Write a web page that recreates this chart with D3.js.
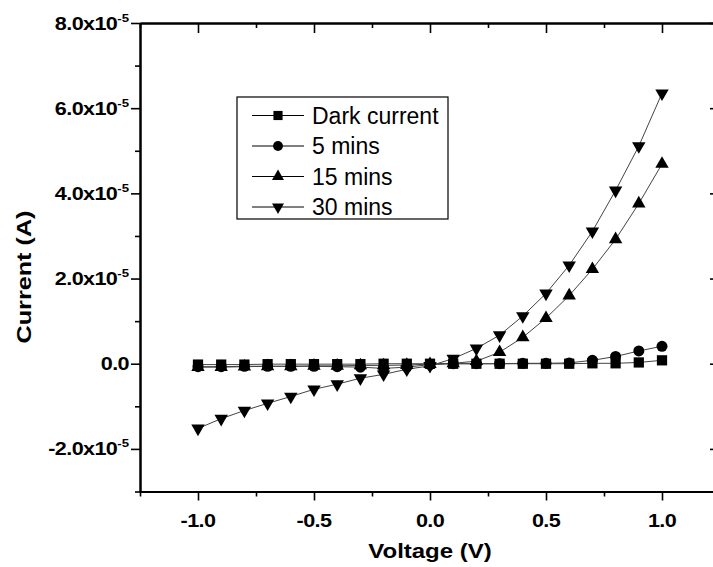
<!DOCTYPE html>
<html><head><meta charset="utf-8">
<script src="https://cdn.jsdelivr.net/npm/d3@7"></script>
<style>body{margin:0;background:#fff} svg{display:block}</style>
</head><body>
<svg id="chart" width="713" height="567"></svg>
<script>
// ---------- data (current in units of 1e-5 A) ----------
const voltage = [-1.0,-0.9,-0.8,-0.7,-0.6,-0.5,-0.4,-0.3,-0.2,-0.1,0.0,0.1,0.2,0.3,0.4,0.5,0.6,0.7,0.8,0.9,1.0];
const darkCurrent = [-0.02,-0.02,-0.02,-0.01,-0.01,-0.01,-0.01,-0.01,0.0,0.0,0.0,0.0,0.0,0.0,0.0,0.0,0.0,0.01,0.01,0.03,0.08];
const mins5      = [-0.07,-0.07,-0.06,-0.06,-0.06,-0.06,-0.07,-0.08,-0.11,-0.08,-0.02,0.0,0.0,0.0,0.01,0.01,0.02,0.08,0.17,0.30,0.41];
const mins15     = [-0.08,-0.08,-0.07,-0.06,-0.06,-0.05,-0.05,-0.04,-0.04,-0.03,-0.01,0.01,0.06,0.27,0.62,1.07,1.60,2.22,2.92,3.76,4.69];
const mins30     = [-1.52,-1.29,-1.10,-0.93,-0.77,-0.60,-0.48,-0.34,-0.25,-0.13,-0.05,0.12,0.36,0.67,1.12,1.65,2.31,3.11,4.07,5.11,6.35];
const seriesNames = ["Dark current","5 mins","15 mins","30 mins"];
const xTickValues = [-1.0,-0.5,0.0,0.5,1.0];
const xTickLabels = ["-1.0","-0.5","0.0","0.5","1.0"];
const xMinorTicks = [-1.25,-0.75,-0.25,0.25,0.75,1.25];
const yTickValues = [-2,0,2,4,6,8];
const yTickMantissa = ["-2.0x10","0.0","2.0x10","4.0x10","6.0x10","8.0x10"];
const yTickExponent = ["-5","","-5","-5","-5","-5"];
const yMinorTicks = [-3,-1,1,3,5,7];
const xTitle = "Voltage (V)";
const yTitle = "Current (A)";

// ---------- layout ----------
const svg = d3.select("#chart");
const L = 140, R = 720, T = 23, B = 491.5;
const x = d3.scaleLinear().domain([-1.25, 1.25]).range([L, R]);
const y = d3.scaleLinear().domain([-3, 8]).range([B, T]);
const boldFont = "'Liberation Sans', Arial, sans-serif";
const stretch = 1.2;

function styleAxis(g, w) {
  g.select(".domain").attr("stroke", "#000").attr("stroke-width", 2);
  g.selectAll(".tick line").attr("stroke", "#000").attr("stroke-width", w);
  g.selectAll(".tick text").remove();
}
// bottom
svg.append("g").attr("transform", `translate(0,${B})`)
  .call(d3.axisBottom(x).tickValues(xTickValues).tickSize(9).tickSizeOuter(0).tickFormat(""))
  .call(g => styleAxis(g, 1.6));
svg.append("g").attr("transform", `translate(0,${B})`)
  .call(d3.axisBottom(x).tickValues(xMinorTicks).tickSize(5).tickSizeOuter(0).tickFormat(""))
  .call(g => styleAxis(g, 1.6));
// top (inward)
svg.append("g").attr("transform", `translate(0,${T})`)
  .call(d3.axisTop(x).tickValues(xTickValues).tickSize(-10).tickSizeOuter(0).tickFormat(""))
  .call(g => styleAxis(g, 1.6));
svg.append("g").attr("transform", `translate(0,${T})`)
  .call(d3.axisTop(x).tickValues(xMinorTicks).tickSize(-5).tickSizeOuter(0).tickFormat(""))
  .call(g => styleAxis(g, 1.6));
// left
svg.append("g").attr("transform", `translate(${L},0)`)
  .call(d3.axisLeft(y).tickValues(yTickValues).tickSize(9).tickSizeOuter(0).tickFormat(""))
  .call(g => styleAxis(g, 1.6));
svg.append("g").attr("transform", `translate(${L},0)`)
  .call(d3.axisLeft(y).tickValues(yMinorTicks).tickSize(5).tickSizeOuter(0).tickFormat(""))
  .call(g => styleAxis(g, 1.6));
// right (inward)
svg.append("g").attr("transform", `translate(${R},0)`)
  .call(d3.axisRight(y).tickValues(yTickValues).tickSize(-10).tickSizeOuter(0).tickFormat(""))
  .call(g => styleAxis(g, 1.6));
svg.append("g").attr("transform", `translate(${R},0)`)
  .call(d3.axisRight(y).tickValues(yMinorTicks).tickSize(-5).tickSizeOuter(0).tickFormat(""))
  .call(g => styleAxis(g, 1.6));

// x tick labels
svg.append("g").selectAll("text").data(xTickValues).join("text")
  .attr("transform", d => `translate(${x(d)},527) scale(${stretch},1)`)
  .attr("text-anchor", "middle")
  .attr("font-family", boldFont).attr("font-weight", "bold").attr("font-size", 18)
  .attr("letter-spacing", -0.5)
  .text((d, i) => xTickLabels[i]);

// y tick labels
const yl = svg.append("g").selectAll("text").data(yTickValues).join("text")
  .attr("transform", d => `translate(129,${y(d) + 6.5}) scale(${stretch},1)`)
  .attr("text-anchor", "end")
  .attr("font-family", boldFont).attr("font-weight", "bold").attr("font-size", 18)
  .attr("letter-spacing", -0.5);
yl.append("tspan").text((d, i) => yTickMantissa[i]);
yl.append("tspan").attr("font-size", 11).attr("dy", -8).attr("letter-spacing", 0)
  .text((d, i) => yTickExponent[i]);

// axis titles
svg.append("text")
  .attr("transform", `translate(430,558) scale(${stretch},1)`)
  .attr("text-anchor", "middle")
  .attr("font-family", boldFont).attr("font-weight", "bold").attr("font-size", 20)
  .text(xTitle);
svg.append("text")
  .attr("transform", `translate(31,277) rotate(-90) scale(${stretch},1)`)
  .attr("text-anchor", "middle")
  .attr("font-family", boldFont).attr("font-weight", "bold").attr("font-size", 21)
  .text(yTitle);

// ---------- series ----------
const allSeries = [darkCurrent, mins5, mins15, mins30];
const symbols = [
  { type: d3.symbolSquare, size: 105, rot: 0 },
  { type: d3.symbolCircle, size: 95, rot: 0 },
  { type: d3.symbolTriangle, size: 78, rot: 0 },
  { type: d3.symbolTriangle, size: 78, rot: 180 }
];
const line = d3.line().x((d, i) => x(voltage[i])).y(d => y(d));
const plot = svg.append("g");
allSeries.forEach(s => {
  plot.append("path").attr("d", line(s)).attr("fill", "none")
    .attr("stroke", "#444").attr("stroke-width", 1);
});
allSeries.forEach((s, k) => {
  const sym = d3.symbol().type(symbols[k].type).size(symbols[k].size);
  plot.append("g").selectAll("path").data(s).join("path")
    .attr("d", sym)
    .attr("transform", (d, i) => `translate(${x(voltage[i])},${y(d)}) rotate(${symbols[k].rot})`)
    .attr("fill", "#000");
});

// ---------- legend ----------
const lg = svg.append("g");
lg.append("rect").attr("x", 237).attr("y", 97).attr("width", 211).attr("height", 122)
  .attr("fill", "#fff").attr("stroke", "#000").attr("stroke-width", 1.2);
const rowY = [115.5, 146, 176.5, 207];
seriesNames.forEach((name, k) => {
  const ry = rowY[k];
  lg.append("line").attr("x1", 252).attr("x2", 304).attr("y1", ry).attr("y2", ry)
    .attr("stroke", "#000").attr("stroke-width", 1);
  lg.append("path").attr("d", d3.symbol().type(symbols[k].type).size(symbols[k].size * 0.8)())
    .attr("transform", `translate(278,${ry}) rotate(${symbols[k].rot})`).attr("fill", "#000");
  lg.append("text").attr("x", 312).attr("y", ry + 8)
    .attr("font-family", "'Liberation Sans', Arial, sans-serif").attr("font-size", 23)
    .text(name);
});
</script>
</body></html>
